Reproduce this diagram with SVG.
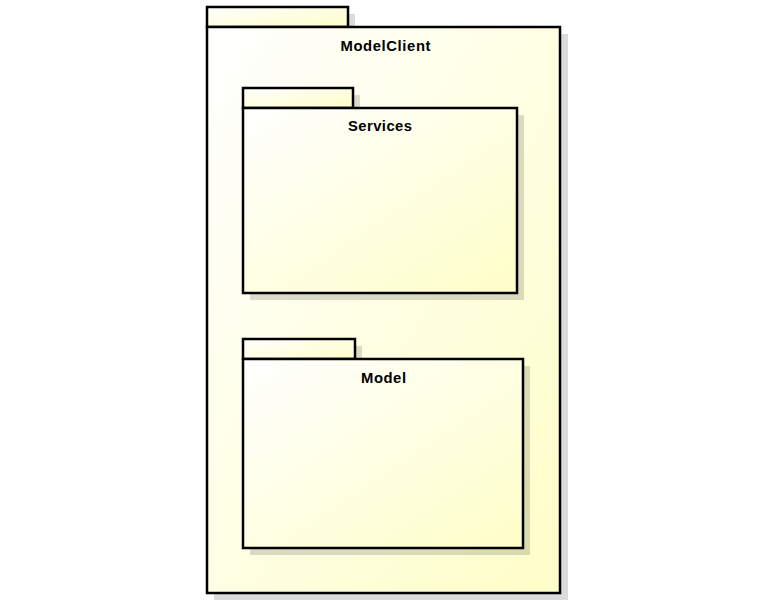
<svg xmlns="http://www.w3.org/2000/svg" width="776" height="612" viewBox="0 0 776 612">
<defs>
<linearGradient id="g" x1="0" y1="0" x2="1" y2="1">
<stop offset="0" stop-color="#ffffff"/>
<stop offset="1" stop-color="#fefec8"/>
</linearGradient>
<style>
.sh{fill:#000;fill-opacity:0.14}
.pk{fill:url(#g);stroke:#000;stroke-width:2.5}
.t{font-family:"Liberation Sans",Arial,sans-serif;font-weight:bold;font-size:14.8px;text-anchor:middle;fill:#000}
</style>
</defs>
<rect width="776" height="612" fill="#fff"/>
<g id="ModelClient">
<rect class="sh" x="214" y="14" width="141" height="20"/>
<rect class="sh" x="214" y="34" width="354" height="566"/>
<rect class="pk" x="207" y="7" width="141" height="20"/>
<rect class="pk" x="207" y="27" width="353" height="566"/>
<text class="t" x="385.5" y="51" textLength="90" lengthAdjust="spacing">ModelClient</text>
</g>
<g id="Services">
<rect class="sh" x="250" y="95" width="110" height="20"/>
<rect class="sh" x="250" y="115" width="274" height="185"/>
<rect class="pk" x="243" y="88" width="110" height="20"/>
<rect class="pk" x="243" y="108" width="274" height="185"/>
<text class="t" x="380" y="131" textLength="64" lengthAdjust="spacing">Services</text>
</g>
<g id="Model">
<rect class="sh" x="250" y="346" width="112" height="20"/>
<rect class="sh" x="250" y="366" width="280" height="189"/>
<rect class="pk" x="243" y="339" width="112" height="20"/>
<rect class="pk" x="243" y="359" width="280" height="189"/>
<text class="t" x="383.5" y="382.5" textLength="45" lengthAdjust="spacing">Model</text>
</g>
<g id="connectors"/>
</svg>
